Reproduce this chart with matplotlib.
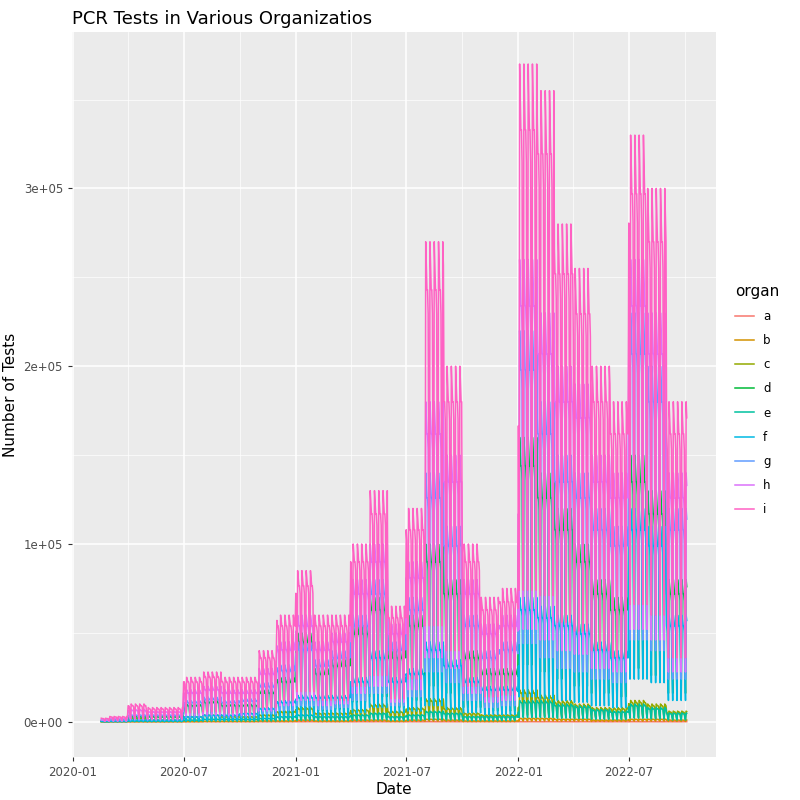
import numpy as np, pandas as pd
import matplotlib
matplotlib.use("Agg")
import matplotlib.pyplot as plt
import matplotlib.dates as mdates

months = pd.date_range("2020-02-01", "2022-09-01", freq="MS")
# monthly peak values (thousands)
series = {
 "a": [0.05]*32,
 "b": [0,0,0.1,0.1,0.1,0.2,0.3,0.3,0.3,0.5,0.5,1,0.5,0.5,1,1,0.5,1,1.5,1,0.5,0.5,0.5,2,2,1.5,1.5,1,1,1.5,1.5,1],
 "c": [0.2,0.5,2,1,1,3,4,3,3,4,6,8,5,5,7,10,6,8,13,8,5,4,4,18,15,12,10,8,8,12,10,6],
 "d": [0.5,1,3,3,3,10,12,10,10,18,25,50,30,35,55,70,40,60,100,80,40,30,30,160,140,120,100,80,70,150,130,80],
 "e": [0.1,0.2,0.5,0.5,0.5,1,1.5,1.5,1.5,2,3,4,3,3,4,5,3,4,6,5,3,3,3,12,12,10,9,7,6,10,8,5],
 "f": [0.3,0.5,1,1,1,3,4,4,5,8,12,15,15,15,25,40,25,30,45,35,25,20,20,70,65,60,55,45,40,120,110,60],
 "g": [1,1,4,4,4,12,14,12,13,22,32,45,35,40,60,80,45,70,140,110,60,40,45,220,180,150,140,120,110,230,200,120],
 "h": [1,2,7,6,6,18,20,18,18,30,45,60,45,50,80,100,55,90,180,150,80,55,60,260,230,200,190,150,140,260,230,140],
 "i": [2,3,10,8,8,25,28,25,25,40,60,85,60,60,100,130,65,120,270,200,100,70,75,370,355,280,255,200,180,330,300,180],
}
weekday_factor = [1.0, 0.95, 0.9, 0.9, 0.85, 0.45, 0.2]
colors = ["#F8766D","#D39200","#93AA00","#00BA38","#00C19F","#00B9E3","#619CFF","#DB72FB","#FF61C3"]

days = pd.date_range("2020-02-17", "2022-10-04", freq="D")
midx = np.minimum((days.year - 2020) * 12 + days.month - 2, 31)
wf = np.array(weekday_factor)[days.weekday]

fig = plt.figure(figsize=(8, 8), dpi=100)
fig.patch.set_facecolor("white")
ax = fig.add_axes([0.09, 0.054, 0.805, 0.906])
ax.set_facecolor("#EBEBEB")
for (k, v), c in zip(series.items(), colors):
    vals = np.array(v)[midx] * 1000 * wf
    ax.plot(days, vals, color=c, lw=1.1, label=k)

ax.set_xlim(pd.Timestamp("2019-12-31"), pd.Timestamp("2022-11-21"))
ax.set_ylim(-19700, 388000)
ax.set_yticks([0, 1e5, 2e5, 3e5])
ax.set_yticklabels(["0e+00", "1e+05", "2e+05", "3e+05"])
ax.set_yticks([5e4, 1.5e5, 2.5e5, 3.5e5], minor=True)
ax.xaxis.set_major_locator(mdates.MonthLocator(bymonth=[1, 7]))
ax.xaxis.set_major_formatter(mdates.DateFormatter("%Y-%m"))
ax.xaxis.set_minor_locator(mdates.MonthLocator(bymonth=[4, 10]))
ax.grid(which="major", color="white", lw=1.1)
ax.grid(which="minor", color="white", lw=0.5)
ax.set_axisbelow(True)
for s in ax.spines.values():
    s.set_visible(False)
ax.tick_params(which="both", length=3, color="#333333", labelsize=8.5, labelcolor="#4D4D4D")
ax.tick_params(which="minor", length=0)
ax.set_xlabel("Date", fontsize=11, labelpad=2)
ax.set_ylabel("Number of Tests", fontsize=11)
ax.set_title("PCR Tests in Various Organizatios", loc="left", fontsize=13)
leg = fig.legend(loc="center left", bbox_to_anchor=(0.905, 0.5), title="organ", frameon=False,
                 fontsize=8.5, title_fontsize=11, handlelength=1.6, labelspacing=0.95)
leg._legend_box.align = "left"
fig.savefig("out.png", dpi=100)
